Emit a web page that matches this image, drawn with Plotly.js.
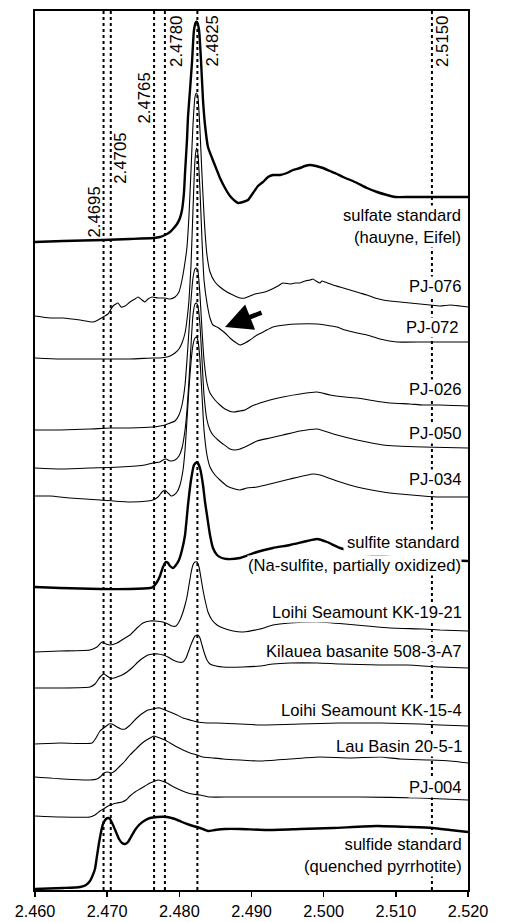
<!DOCTYPE html>
<html>
<head>
<meta charset="utf-8">
<script src="https://cdn.plot.ly/plotly-3.0.1.min.js"></script>
<style>html,body{margin:0;padding:0;background:#fff;}#chart{width:505px;height:922px;}</style>
</head>
<body>
<div id="chart"></div>
<script>
// ---- Data (energy in keV, normalized intensity with vertical offsets) ----
const sulfateE = [2.46000,2.46388,2.46942,2.47316,2.47635,2.47732,2.47801,2.47871,2.47912,2.47968,2.48009,2.48037,2.48065,2.48079,2.48106,2.48120,2.48148,2.48176,2.48203,2.48231,2.48245,2.48273,2.48300,2.48328,2.48356,2.48397,2.48453,2.48508,2.48563,2.48633,2.48702,2.48771,2.48813,2.48882,2.48951,2.49021,2.49090,2.49159,2.49229,2.49298,2.49395,2.49492,2.49575,2.49672,2.49741,2.49811,2.49894,2.49991,2.50088,2.50185,2.50268,2.50434,2.50600,2.50739,2.50878,2.50988,2.51196,2.51515,2.51751,2.52000];
const sulfateI = [6.48,6.49,6.50,6.51,6.52,6.53,6.55,6.58,6.61,6.66,6.72,6.80,6.98,7.17,7.50,7.73,8.00,8.28,8.60,8.68,8.68,8.60,8.30,7.90,7.65,7.43,7.32,7.22,7.12,7.02,6.94,6.89,6.87,6.88,6.90,6.97,7.04,7.08,7.13,7.15,7.15,7.17,7.20,7.22,7.24,7.25,7.24,7.22,7.19,7.16,7.13,7.08,7.02,6.98,6.95,6.93,6.93,6.93,6.93,6.93];

const pj076E = [2.46000,2.46208,2.46388,2.46624,2.46804,2.46873,2.46942,2.47012,2.47081,2.47150,2.47192,2.47247,2.47316,2.47386,2.47427,2.47483,2.47524,2.47566,2.47621,2.47704,2.47801,2.47871,2.47940,2.47995,2.48037,2.48079,2.48106,2.48134,2.48162,2.48189,2.48217,2.48238,2.48259,2.48286,2.48314,2.48342,2.48356,2.48383,2.48425,2.48494,2.48563,2.48660,2.48744,2.48841,2.48910,2.48979,2.49048,2.49118,2.49187,2.49256,2.49367,2.49436,2.49533,2.49603,2.49672,2.49741,2.49811,2.49852,2.49894,2.49949,2.49977,2.50018,2.50129,2.50226,2.50365,2.50503,2.50600,2.50711,2.50822,2.50919,2.51058,2.51196,2.51335,2.51473,2.51612,2.51751,2.51889,2.52000];
const pj076I = [5.74,5.72,5.72,5.70,5.68,5.70,5.73,5.76,5.84,5.87,5.83,5.84,5.88,5.91,5.93,5.90,5.88,5.91,5.93,5.92,5.92,5.91,5.93,5.98,6.10,6.28,6.43,6.75,7.20,7.65,7.93,7.97,7.92,7.60,7.15,6.75,6.58,6.35,6.18,6.08,6.03,5.98,5.95,5.92,5.92,5.94,5.96,5.97,5.98,6.00,6.04,6.07,6.06,6.07,6.07,6.09,6.10,6.11,6.09,6.07,6.09,6.08,6.05,6.03,6.00,5.97,5.95,5.92,5.90,5.89,5.88,5.87,5.86,5.85,5.84,5.85,5.84,5.83];

const pj072E = [2.46000,2.46346,2.46762,2.47316,2.47635,2.47732,2.47829,2.47898,2.47940,2.47995,2.48037,2.48079,2.48106,2.48134,2.48162,2.48189,2.48217,2.48238,2.48259,2.48286,2.48314,2.48342,2.48383,2.48425,2.48466,2.48522,2.48563,2.48633,2.48702,2.48771,2.48841,2.48910,2.48979,2.49076,2.49187,2.49298,2.49464,2.49631,2.49908,2.50018,2.50185,2.50296,2.50462,2.50600,2.50781,2.51016,2.51376,2.51612,2.52000];
const pj072I = [5.32,5.31,5.31,5.31,5.32,5.32,5.33,5.35,5.37,5.41,5.47,5.57,5.70,5.90,6.25,6.80,7.30,7.42,7.35,7.00,6.50,6.10,5.87,5.72,5.65,5.63,5.61,5.57,5.52,5.48,5.45,5.47,5.50,5.55,5.59,5.63,5.65,5.66,5.66,5.65,5.63,5.60,5.57,5.55,5.51,5.48,5.48,5.48,5.48];

const pj026E = [2.46000,2.46346,2.46762,2.47039,2.47316,2.47635,2.47732,2.47801,2.47871,2.47940,2.47995,2.48037,2.48079,2.48106,2.48134,2.48162,2.48189,2.48217,2.48238,2.48259,2.48286,2.48314,2.48342,2.48383,2.48425,2.48494,2.48563,2.48633,2.48744,2.48841,2.48910,2.49007,2.49118,2.49256,2.49436,2.49672,2.49908,2.50088,2.50296,2.50462,2.50711,2.50919,2.51196,2.51376,2.51612,2.52000];
const pj026I = [4.60,4.60,4.61,4.62,4.62,4.63,4.64,4.65,4.67,4.69,4.75,4.85,5.05,5.30,5.60,5.90,6.12,6.21,6.22,6.18,5.95,5.60,5.30,5.07,4.97,4.90,4.85,4.81,4.78,4.79,4.80,4.84,4.87,4.90,4.93,4.96,4.98,4.95,4.93,4.92,4.89,4.87,4.86,4.85,4.85,4.84];

const pj050E = [2.46000,2.46346,2.46762,2.47178,2.47524,2.47635,2.47732,2.47774,2.47815,2.47871,2.47940,2.47995,2.48037,2.48079,2.48106,2.48134,2.48162,2.48189,2.48217,2.48238,2.48259,2.48286,2.48314,2.48342,2.48383,2.48425,2.48466,2.48536,2.48605,2.48702,2.48771,2.48841,2.48937,2.49076,2.49256,2.49436,2.49672,2.49908,2.50185,2.50462,2.50822,2.51376,2.52000];
const pj050I = [4.22,4.21,4.22,4.23,4.25,4.27,4.28,4.30,4.31,4.29,4.30,4.34,4.42,4.60,4.80,5.10,5.45,5.75,5.86,5.87,5.83,5.65,5.30,4.95,4.70,4.60,4.55,4.50,4.46,4.41,4.40,4.41,4.44,4.49,4.52,4.55,4.59,4.61,4.55,4.50,4.45,4.43,4.42];

const pj034E = [2.46000,2.46208,2.46485,2.46901,2.47316,2.47566,2.47635,2.47704,2.47760,2.47801,2.47843,2.47885,2.47926,2.47968,2.48009,2.48051,2.48079,2.48106,2.48134,2.48162,2.48189,2.48217,2.48238,2.48259,2.48286,2.48314,2.48342,2.48383,2.48425,2.48494,2.48563,2.48660,2.48771,2.48841,2.48937,2.49076,2.49256,2.49533,2.49852,2.49949,2.50185,2.50462,2.50822,2.51058,2.51376,2.51612,2.52000];
const pj034I = [3.94,3.94,3.92,3.90,3.88,3.89,3.90,3.93,3.98,4.00,3.97,3.94,3.95,3.98,4.05,4.20,4.40,4.70,5.02,5.28,5.45,5.52,5.53,5.49,5.30,4.95,4.60,4.35,4.23,4.15,4.10,4.04,4.01,4.00,4.02,4.03,4.06,4.11,4.16,4.15,4.09,4.03,3.98,3.96,3.94,3.93,3.93];

const sulfiteE = [2.46000,2.46346,2.46901,2.47316,2.47594,2.47635,2.47691,2.47732,2.47774,2.47815,2.47843,2.47871,2.47912,2.47954,2.47995,2.48037,2.48079,2.48120,2.48162,2.48203,2.48245,2.48286,2.48328,2.48356,2.48383,2.48425,2.48466,2.48522,2.48591,2.48660,2.48841,2.49076,2.49298,2.49533,2.49769,2.49908,2.50046,2.50226,2.50503,2.51058,2.51612,2.52000];
const sulfiteI = [3.03,3.02,3.01,3.01,3.02,3.03,3.08,3.14,3.23,3.28,3.27,3.24,3.22,3.25,3.30,3.40,3.55,3.85,4.10,4.25,4.28,4.22,4.05,3.88,3.75,3.55,3.42,3.35,3.32,3.31,3.32,3.38,3.42,3.45,3.49,3.51,3.48,3.42,3.37,3.32,3.30,3.29];

const kk1921E = [2.46000,2.46346,2.46762,2.46859,2.46928,2.46984,2.47039,2.47136,2.47247,2.47316,2.47413,2.47497,2.47594,2.47663,2.47774,2.47843,2.47898,2.47954,2.47995,2.48037,2.48079,2.48106,2.48134,2.48162,2.48189,2.48217,2.48245,2.48273,2.48300,2.48328,2.48356,2.48397,2.48453,2.48522,2.48605,2.48744,2.48882,2.49118,2.49298,2.49533,2.49908,2.50296,2.50600,2.50919,2.51376,2.51612,2.52000];
const kk1921I = [2.38,2.39,2.40,2.43,2.48,2.46,2.45,2.47,2.52,2.55,2.62,2.67,2.69,2.69,2.68,2.66,2.64,2.64,2.68,2.75,2.85,2.93,3.05,3.17,3.25,3.28,3.28,3.23,3.12,3.00,2.90,2.78,2.70,2.65,2.62,2.59,2.58,2.61,2.65,2.67,2.68,2.66,2.64,2.62,2.61,2.60,2.59];

const kilaueaE = [2.46000,2.46346,2.46762,2.46831,2.46901,2.46956,2.46998,2.47039,2.47095,2.47136,2.47206,2.47275,2.47358,2.47427,2.47497,2.47566,2.47635,2.47704,2.47774,2.47843,2.47912,2.47981,2.48051,2.48093,2.48134,2.48176,2.48217,2.48259,2.48286,2.48314,2.48342,2.48383,2.48425,2.48508,2.48605,2.48882,2.49118,2.49298,2.49533,2.49908,2.50226,2.50781,2.51155,2.51612,2.52000];
const kilaueaI = [2.02,2.02,2.03,2.06,2.13,2.16,2.14,2.12,2.12,2.13,2.15,2.18,2.23,2.28,2.32,2.35,2.36,2.36,2.35,2.33,2.30,2.28,2.28,2.32,2.40,2.48,2.54,2.55,2.52,2.45,2.38,2.30,2.26,2.24,2.23,2.23,2.24,2.26,2.27,2.27,2.26,2.25,2.25,2.23,2.22];

const kk154E = [2.46000,2.46346,2.46790,2.46845,2.46901,2.46970,2.47026,2.47067,2.47136,2.47192,2.47247,2.47303,2.47358,2.47427,2.47497,2.47566,2.47635,2.47691,2.47732,2.47801,2.47871,2.47968,2.48051,2.48148,2.48245,2.48383,2.48522,2.48841,2.49118,2.49672,2.50226,2.50781,2.51335,2.51612,2.52000];
const kk154I = [1.46,1.47,1.47,1.52,1.59,1.63,1.66,1.66,1.63,1.61,1.61,1.64,1.68,1.73,1.77,1.80,1.81,1.82,1.82,1.80,1.78,1.75,1.72,1.70,1.68,1.67,1.67,1.66,1.65,1.66,1.67,1.67,1.66,1.65,1.64];

const lauE = [2.46000,2.46388,2.46762,2.46859,2.46901,2.46956,2.47012,2.47053,2.47109,2.47178,2.47247,2.47316,2.47386,2.47455,2.47524,2.47594,2.47649,2.47691,2.47732,2.47801,2.47871,2.47968,2.48051,2.48148,2.48245,2.48328,2.48466,2.48605,2.48841,2.49118,2.49533,2.49949,2.50365,2.50781,2.51058,2.51473,2.51751,2.52000];
const lauI = [1.13,1.11,1.10,1.11,1.13,1.17,1.18,1.17,1.19,1.24,1.29,1.35,1.40,1.45,1.49,1.52,1.54,1.53,1.52,1.50,1.47,1.43,1.40,1.37,1.35,1.33,1.32,1.31,1.30,1.29,1.31,1.33,1.32,1.33,1.31,1.30,1.29,1.27];

const pj004E = [2.46000,2.46346,2.46762,2.46831,2.46901,2.46970,2.47039,2.47136,2.47206,2.47261,2.47316,2.47386,2.47455,2.47524,2.47594,2.47663,2.47704,2.47760,2.47829,2.47898,2.47981,2.48079,2.48176,2.48286,2.48425,2.48702,2.49118,2.49672,2.50503,2.51335,2.52000];
const pj004I = [0.74,0.73,0.73,0.75,0.79,0.82,0.85,0.87,0.88,0.90,0.94,0.98,1.01,1.04,1.07,1.09,1.10,1.09,1.07,1.04,1.01,0.98,0.96,0.95,0.93,0.93,0.93,0.93,0.93,0.92,0.90];

const sulfideE = [2.46000,2.46388,2.46624,2.46707,2.46762,2.46790,2.46831,2.46859,2.46887,2.46915,2.46942,2.46984,2.47012,2.47039,2.47081,2.47122,2.47164,2.47206,2.47247,2.47289,2.47330,2.47386,2.47441,2.47510,2.47594,2.47691,2.47829,2.47940,2.48037,2.48148,2.48286,2.48397,2.48494,2.48633,2.48841,2.49215,2.49672,2.50129,2.50739,2.51196,2.51515,2.51751,2.52000];
const sulfideI = [0.01,0.02,0.03,0.05,0.09,0.13,0.21,0.34,0.47,0.58,0.66,0.71,0.72,0.71,0.65,0.58,0.51,0.47,0.46,0.48,0.53,0.60,0.65,0.69,0.72,0.73,0.73,0.71,0.68,0.65,0.62,0.59,0.60,0.61,0.61,0.60,0.61,0.62,0.64,0.63,0.62,0.60,0.58];

// Reference energies (dotted lines) and their labels
const refEnergies = [2.4695, 2.4705, 2.4765, 2.4780, 2.4825, 2.5150];
const refLabels = ['2.4695', '2.4705', '2.4765', '2.4780', '2.4825', '2.5150'];
const refLabelY = [6.78, 7.32, 7.92, 8.49, 8.49, 8.49];

// Spectrum labels (one entry per text block)
const specLabels = ['sulfate standard<br>(hauyne, Eifel)', 'PJ-076', 'PJ-072', 'PJ-026', 'PJ-050', 'PJ-034',
  'sulfite standard', '(Na-sulfite, partially oxidized)', 'Loihi Seamount KK-19-21', 'Kilauea basanite 508-3-A7',
  'Loihi Seamount KK-15-4', 'Lau Basin 20-5-1', 'PJ-004', 'sulfide standard<br>(quenched pyrrhotite)'];
const specLabelY = [6.64, 6.04, 5.63, 5.01, 4.57, 4.11, 3.48, 3.25, 2.78, 2.39, 1.80, 1.44, 1.03, 0.345];

const xTickVals = [2.46, 2.47, 2.48, 2.49, 2.50, 2.51, 2.52];
const xTickText = ['2.460', '2.470', '2.480', '2.490', '2.500', '2.510', '2.520'];

// Arrow pointing at PJ-072 shoulder
const arrowTipE = 2.48633;
const arrowTipI = 5.63;

// ---- Build figure ----
const spectra = [
  {x: sulfateE, y: sulfateI, thick: true},
  {x: pj076E, y: pj076I},
  {x: pj072E, y: pj072I},
  {x: pj026E, y: pj026I},
  {x: pj050E, y: pj050I},
  {x: pj034E, y: pj034I},
  {x: sulfiteE, y: sulfiteI, thick: true},
  {x: kk1921E, y: kk1921I},
  {x: kilaueaE, y: kilaueaI},
  {x: kk154E, y: kk154I},
  {x: lauE, y: lauI},
  {x: pj004E, y: pj004I},
  {x: sulfideE, y: sulfideI, thick: true}
];

const traces = spectra.map(s => ({
  type: 'scatter', mode: 'lines', x: s.x, y: s.y,
  line: {color: '#000', width: s.thick ? 2.4 : 1.1, shape: 'spline', smoothing: 0.5},
  hoverinfo: 'skip'
}));

const FONT = 'Arial, "Liberation Sans", "DejaVu Sans", sans-serif';

const shapes = refEnergies.map(e => ({
  type: 'line', xref: 'x', yref: 'paper', x0: e, x1: e, y0: 0, y1: 1,
  line: {color: '#000', width: 2, dash: 'dot'}
}));

const refShift = [-10, 9, -10.5, 11, 15, 10];
const annotations = [];
refEnergies.forEach((e, i) => {
  annotations.push({
    x: e, y: refLabelY[i], xref: 'x', yref: 'y', text: refLabels[i], textangle: -90,
    showarrow: false, xshift: refShift[i], font: {family: FONT, size: 16.8, color: '#000'}
  });
});
const labelShift = [-6, -5, -8, -5, -5, -5, -7, -6, -5, -5, -5, -5, -5, -5];
const labelPad = [0, 0, 0, 0, 0, 0, 3, 0, 0, 0, 0, 0, 0, 0];
specLabels.forEach((t, i) => {
  annotations.push({
    x: 1, xref: 'paper', xanchor: 'right', xshift: labelShift[i] + labelPad[i], y: specLabelY[i], yref: 'y', yanchor: 'middle',
    text: t, align: 'right', showarrow: false, bgcolor: '#fff', borderpad: labelPad[i],
    font: {family: FONT, size: 16.6, color: '#000'}
  });
});
annotations.push({
  x: arrowTipE, y: arrowTipI, xref: 'x', yref: 'y', text: '', showarrow: true,
  ax: 38, ay: -15, arrowhead: 2, arrowsize: 1.2, arrowwidth: 4.5, arrowcolor: '#000', standoff: 0
});

const layout = {
  width: 505, height: 922,
  margin: {l: 35, r: 37, t: 11, b: 32, pad: 0},
  paper_bgcolor: '#fff', plot_bgcolor: '#fff',
  showlegend: false,
  font: {family: FONT, color: '#000'},
  xaxis: {
    range: [2.46, 2.52], tickmode: 'array', tickvals: xTickVals, ticktext: xTickText,
    ticks: 'outside', ticklen: 5, tickwidth: 1.5, tickcolor: '#000',
    showline: true, mirror: true, linewidth: 2, linecolor: '#000',
    showgrid: false, zeroline: false, tickfont: {family: FONT, size: 16.3, color: '#000'}
  },
  yaxis: {
    range: [0, 8.79], showticklabels: false, ticks: '',
    showline: true, mirror: true, linewidth: 2, linecolor: '#000',
    showgrid: false, zeroline: false
  },
  shapes: shapes,
  annotations: annotations
};

Plotly.newPlot('chart', traces, layout, {displayModeBar: false, staticPlot: true});
</script>
</body>
</html>
